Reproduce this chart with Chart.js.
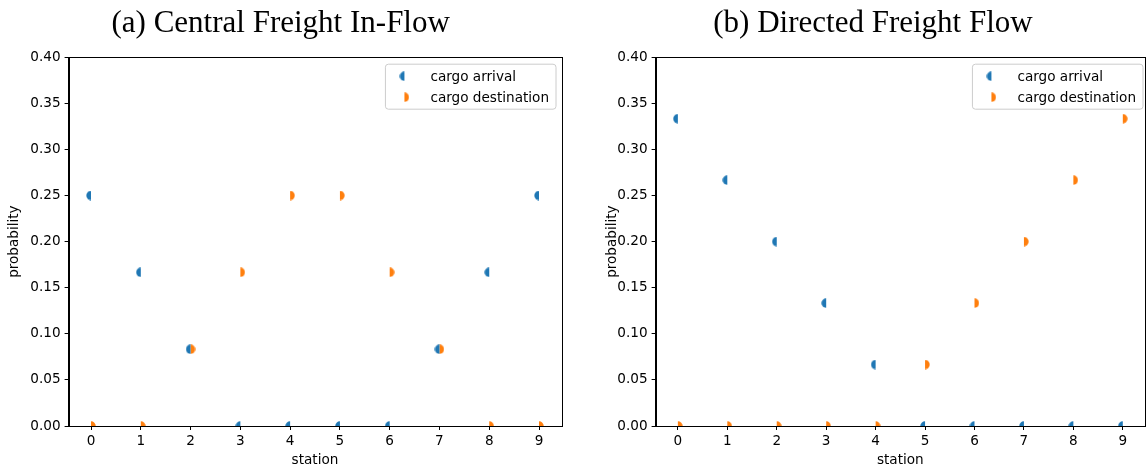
<!DOCTYPE html>
<html>
<head>
<meta charset="utf-8">
<script src="https://cdn.jsdelivr.net/npm/chart.js@4/dist/chart.umd.min.js"></script>
<style>
  html, body { margin: 0; padding: 0; background: #fff; overflow: hidden; }
  body { width: 1146px; height: 471px; position: relative; }
  .panel { position: absolute; top: 0; height: 471px; }
  #panelA { left: 0; width: 575px; }
  #panelB { left: 598px; width: 552px; }
</style>
</head>
<body>
<div class="panel" id="panelA"><canvas id="chartA"></canvas></div>
<div class="panel" id="panelB"><canvas id="chartB"></canvas></div>
<script>
/* chart data */
var stations = [0, 1, 2, 3, 4, 5, 6, 7, 8, 9];
var yTicks = [0, 0.05, 0.10, 0.15, 0.20, 0.25, 0.30, 0.35, 0.40];

var titleA = '(a) Central Freight In-Flow';
var arrivalA     = [0.25, 0.1667, 0.0833, 0, 0, 0, 0, 0.0833, 0.1667, 0.25];
var destinationA = [0, 0, 0.0833, 0.1667, 0.25, 0.25, 0.1667, 0.0833, 0, 0];

var titleB = '(b) Directed Freight Flow';
var arrivalB     = [0.3333, 0.2667, 0.2, 0.1333, 0.0667, 0, 0, 0, 0, 0];
var destinationB = [0, 0, 0, 0, 0, 0.0667, 0.1333, 0.2, 0.2667, 0.3333];

var seriesLabels = ['cargo arrival', 'cargo destination'];
var seriesColors = ['#1f77b4', '#ff7f0e'];

var tickFont = { family: 'DejaVu Sans', size: 13.6 };

/* half-disc marker, side = 'left' or 'right' */
function halfDisc(color, side) {
  var c = document.createElement('canvas');
  c.width = 10;
  c.height = 10;
  var ctx = c.getContext('2d');
  ctx.fillStyle = color;
  ctx.beginPath();
  if (side == 'left') {
    ctx.arc(5, 5, 4.7, Math.PI / 2, Math.PI * 1.5);
  } else {
    ctx.arc(5, 5, 4.7, -Math.PI / 2, Math.PI / 2);
  }
  ctx.closePath();
  ctx.fill();
  return c;
}

var markers = [halfDisc(seriesColors[0], 'left'), halfDisc(seriesColors[1], 'right')];

function toPoints(values) {
  var pts = [];
  for (var i = 0; i < stations.length; i++) {
    pts.push({ x: stations[i], y: values[i] });
  }
  return pts;
}

/* top/right spines and matplotlib-like legend */
var framePlugin = {
  id: 'frame',
  afterDatasetsDraw: function(chart) {
    var ctx = chart.ctx;
    var a = chart.chartArea;
    ctx.save();
    ctx.strokeStyle = '#000';
    ctx.lineWidth = 1;
    ctx.strokeRect(Math.round(a.left) + 0.5, Math.round(a.top) + 0.5,
                   Math.round(a.right - a.left), Math.round(a.bottom - a.top));

    // legend
    ctx.font = tickFont.size + 'px ' + tickFont.family;
    var maxW = 0;
    for (var i = 0; i < seriesLabels.length; i++) {
      maxW = Math.max(maxW, ctx.measureText(seriesLabels[i]).width);
    }
    var boxW = 45 + maxW + 7;
    var boxH = 45;
    var right = chart.options.plugins.frame.legendRight;
    var bx = right - boxW;
    var by = a.top + 7;
    var r = 3;
    ctx.beginPath();
    ctx.moveTo(bx + r, by);
    ctx.arcTo(bx + boxW, by, bx + boxW, by + boxH, r);
    ctx.arcTo(bx + boxW, by + boxH, bx, by + boxH, r);
    ctx.arcTo(bx, by + boxH, bx, by, r);
    ctx.arcTo(bx, by, bx + boxW, by, r);
    ctx.closePath();
    ctx.fillStyle = 'rgba(255,255,255,0.8)';
    ctx.fill();
    ctx.strokeStyle = '#cccccc';
    ctx.stroke();

    ctx.textBaseline = 'middle';
    ctx.textAlign = 'left';
    ctx.fillStyle = '#000';
    for (var j = 0; j < seriesLabels.length; j++) {
      var cy = by + 12 + j * 21;
      ctx.drawImage(markers[j], bx + 19 - 5, cy - 5);
      ctx.fillText(seriesLabels[j], bx + 45, cy + 1);
    }
    ctx.restore();
  }
};

function makeChart(canvasId, title, arrival, destination, yAxisWidth, padRight, legendRight) {
  return new Chart(document.getElementById(canvasId), {
    type: 'scatter',
    data: {
      datasets: [
        {
          label: seriesLabels[0],
          data: toPoints(arrival),
          pointStyle: markers[0],
          clip: 0
        },
        {
          label: seriesLabels[1],
          data: toPoints(destination),
          pointStyle: markers[1],
          clip: 0
        }
      ]
    },
    options: {
      responsive: true,
      maintainAspectRatio: false,
      animation: false,
      events: [],
      layout: { padding: { left: 0, right: padRight, top: 0, bottom: 0 } },
      plugins: {
        legend: { display: false },
        tooltip: { enabled: false },
        title: {
          display: true,
          text: title,
          color: '#000',
          font: { family: 'Liberation Serif', size: 31, weight: 'normal', lineHeight: 1.2 },
          padding: { top: 5, bottom: 15 }
        },
        frame: { legendRight: legendRight }
      },
      scales: {
        x: {
          type: 'linear',
          min: -0.45,
          max: 9.45,
          afterBuildTicks: function(axis) {
            axis.ticks = stations.map(function(v) { return { value: v }; });
          },
          afterFit: function(axis) { axis.height = 45; },
          ticks: {
            color: '#000',
            font: tickFont,
            padding: 3,
            maxRotation: 0,
            callback: function(v) { return String(v); }
          },
          grid: {
            drawOnChartArea: false,
            drawTicks: true,
            tickLength: 4,
            tickColor: '#000',
            tickWidth: 1
          },
          border: { display: true, color: '#000', width: 1 },
          title: {
            display: true,
            text: 'station',
            color: '#000',
            font: tickFont,
            padding: { top: 0, bottom: 2 }
          }
        },
        y: {
          type: 'linear',
          min: 0,
          max: 0.4,
          afterBuildTicks: function(axis) {
            axis.ticks = yTicks.map(function(v) { return { value: v }; });
          },
          afterFit: function(axis) { axis.width = yAxisWidth; },
          ticks: {
            color: '#000',
            font: tickFont,
            padding: 4,
            callback: function(v) { return Number(v).toFixed(2); }
          },
          grid: {
            drawOnChartArea: false,
            drawTicks: true,
            tickLength: 4,
            tickColor: '#000',
            tickWidth: 1
          },
          border: { display: true, color: '#000', width: 1 },
          title: {
            display: true,
            text: 'probability',
            color: '#000',
            font: tickFont,
            padding: { top: 6, bottom: 0 }
          }
        }
      }
    },
    plugins: [framePlugin]
  });
}

makeChart('chartA', titleA, arrivalA, destinationA, 68.6, 13.6, 556);
makeChart('chartB', titleB, arrivalB, destinationB, 57.6, 2, 1143 - 598);
</script>
</body>
</html>
